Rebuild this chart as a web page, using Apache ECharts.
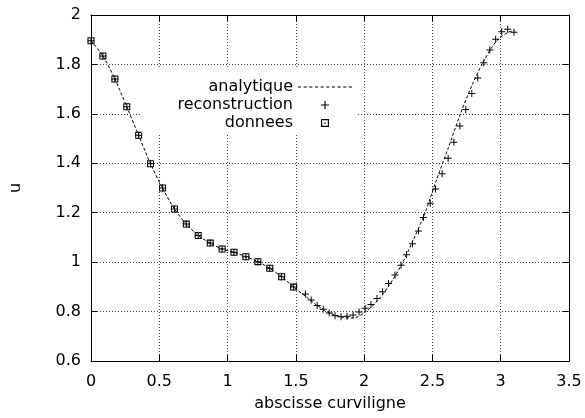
<!DOCTYPE html>
<html>
<head>
<meta charset="utf-8">
<script src="https://cdn.jsdelivr.net/npm/echarts@6/dist/echarts.min.js"></script>
<style>html,body{margin:0;padding:0;background:#fff}#c{width:585px;height:418px}</style>
</head>
<body>
<div id="c"></div>
<script>
// donnees (data squares)
var dataX = [0, 0.087, 0.175, 0.262, 0.349, 0.436, 0.524, 0.611, 0.698, 0.785, 0.873, 0.960, 1.047, 1.134, 1.222, 1.309, 1.396, 1.484];
var dataU = [1.896, 1.834, 1.741, 1.629, 1.513, 1.398, 1.300, 1.215, 1.154, 1.108, 1.077, 1.053, 1.040, 1.022, 1.002, 0.975, 0.941, 0.899];
// reconstruction (crosses)
var reconX = [0, 0.087, 0.175, 0.262, 0.349, 0.436, 0.524, 0.611, 0.698, 0.785, 0.873, 0.960, 1.047, 1.134, 1.222, 1.309, 1.396, 1.484,
  1.570, 1.612, 1.656, 1.700, 1.744, 1.787, 1.831, 1.875, 1.919, 1.963, 2.007, 2.050, 2.094, 2.135, 2.179, 2.226, 2.270, 2.310,
  2.354, 2.398, 2.435, 2.484, 2.522, 2.571, 2.615, 2.657, 2.701, 2.744, 2.788, 2.832, 2.876, 2.920, 2.963, 3.007, 3.051, 3.097];
var reconU = [1.896, 1.834, 1.741, 1.629, 1.513, 1.398, 1.300, 1.215, 1.154, 1.108, 1.077, 1.053, 1.040, 1.022, 1.002, 0.975, 0.941, 0.899,
  0.871, 0.847, 0.825, 0.809, 0.794, 0.783, 0.779, 0.781, 0.786, 0.798, 0.813, 0.829, 0.853, 0.880, 0.914, 0.948, 0.987, 1.030,
  1.074, 1.126, 1.181, 1.238, 1.296, 1.358, 1.420, 1.485, 1.551, 1.618, 1.682, 1.745, 1.807, 1.858, 1.902, 1.932, 1.942, 1.930];
// analytique (dashed curve)
var anaX = [0, 0.087, 0.175, 0.262, 0.349, 0.436, 0.524, 0.611, 0.698, 0.785, 0.873, 0.960, 1.047, 1.134, 1.222, 1.309, 1.396, 1.484,
  1.571, 1.658, 1.745, 1.833, 1.920, 2.007, 2.094, 2.182, 2.269, 2.356, 2.443, 2.531, 2.618, 2.705, 2.793, 2.880, 2.967, 3.054, 3.100];
var anaU = [1.896, 1.834, 1.741, 1.629, 1.513, 1.398, 1.300, 1.215, 1.154, 1.108, 1.077, 1.053, 1.040, 1.022, 1.002, 0.975, 0.941, 0.899,
  0.862, 0.824, 0.795, 0.778, 0.774, 0.798, 0.842, 0.905, 0.985, 1.085, 1.195, 1.335, 1.465, 1.600, 1.720, 1.818, 1.893, 1.930, 1.936];
var seriesNames = ['analytique', 'reconstruction', 'donnees'];
var xTitle = 'abscisse curviligne';
var yTitle = 'u';

function pairs(xs, ys) { return xs.map(function (x, i) { return [x, ys[i]]; }); }

var FONT = 'DejaVu Sans, Verdana, sans-serif';
var FS = 16;
var plusPath = 'path://M4.3,0H5.7V4.3H10V5.7H5.7V10H4.3V5.7H0V4.3H4.3Z';
var squarePath = 'path://M0,0H10V10H0Z M1.5,1.5V8.5H8.5V1.5Z M4.2,4.2H5.8V5.8H4.2Z';
// dashed sample for the legend of the analytic curve
var dashPath = 'path://M0,0H3.15V1H0Z M5.65,0H8.8V1H5.65Z M11.3,0H14.45V1H11.3Z M16.95,0H20.1V1H16.95Z M22.6,0H25.75V1H22.6Z ' +
  'M28.25,0H31.4V1H28.25Z M33.9,0H37.05V1H33.9Z M39.55,0H42.7V1H39.55Z M45.2,0H48.35V1H45.2Z M50.85,0H54V1H50.85Z';

var baseX = {type: 'value', min: 0, max: 3.5, interval: 0.5};
var baseY = {type: 'value', min: 0.6, max: 2, interval: 0.2};
var frameLine = {show: true, onZero: false, lineStyle: {color: '#000', width: 1}};
var tickIn = {show: true, inside: true, length: 6, lineStyle: {color: '#000'}};
var gridLine = {show: true, lineStyle: {color: '#444', width: 1, type: [1, 2]}};

var chart = echarts.init(document.getElementById('c'), null, {renderer: 'canvas'});
chart.setOption({
  animation: false,
  backgroundColor: '#fff',
  textStyle: {fontFamily: FONT},
  grid: {left: 90, right: 16, top: 15, bottom: 57, containLabel: false},
  xAxis: [
    Object.assign({}, baseX, {
      position: 'bottom',
      name: xTitle, nameLocation: 'middle', nameGap: 35,
      nameTextStyle: {color: '#000', fontSize: FS, fontFamily: FONT},
      axisLine: frameLine, axisTick: tickIn,
      axisLabel: {color: '#000', fontSize: FS, margin: 13, fontFamily: FONT},
      splitLine: gridLine
    }),
    Object.assign({}, baseX, {
      position: 'top', axisLine: frameLine, axisTick: tickIn,
      axisLabel: {show: false}, splitLine: {show: false}
    })
  ],
  yAxis: [
    Object.assign({}, baseY, {
      position: 'left',
      name: yTitle, nameLocation: 'middle', nameGap: 67, nameRotate: 90,
      nameTextStyle: {color: '#000', fontSize: FS, fontFamily: FONT},
      axisLine: frameLine, axisTick: tickIn,
      axisLabel: {color: '#000', fontSize: FS, margin: 10, fontFamily: FONT},
      splitLine: gridLine
    }),
    Object.assign({}, baseY, {
      position: 'right', axisLine: frameLine, axisTick: tickIn,
      axisLabel: {show: false}, splitLine: {show: false}
    })
  ],
  legend: {
    data: [
      {name: seriesNames[0], icon: dashPath},
      {name: seriesNames[1]},
      {name: seriesNames[2]}
    ],
    orient: 'vertical',
    align: 'right',
    right: 227,
    top: 67,
    padding: [12, 6, 2, 36],
    itemWidth: 54,
    itemHeight: 8,
    itemGap: 2,
    backgroundColor: '#fff',
    symbolKeepAspect: true,
    textStyle: {color: '#000', fontSize: FS, fontFamily: FONT, lineHeight: 16},
    selectedMode: false
  },
  series: [
    {
      name: seriesNames[0], type: 'line', data: pairs(anaX, anaU),
      symbol: 'none', showSymbol: false, smooth: 0.3, z: 2,
      lineStyle: {color: '#000', width: 1, type: [3, 2]},
      itemStyle: {color: '#000'}
    },
    {
      name: seriesNames[2], type: 'scatter', data: pairs(dataX, dataU),
      symbol: squarePath, symbolSize: 7, z: 3,
      itemStyle: {color: '#000', opacity: 1}
    },
    {
      name: seriesNames[1], type: 'scatter', data: pairs(reconX, reconU),
      symbol: plusPath, symbolSize: 7, z: 4,
      itemStyle: {color: '#000', opacity: 1}
    }
  ]
});
</script>
</body>
</html>
